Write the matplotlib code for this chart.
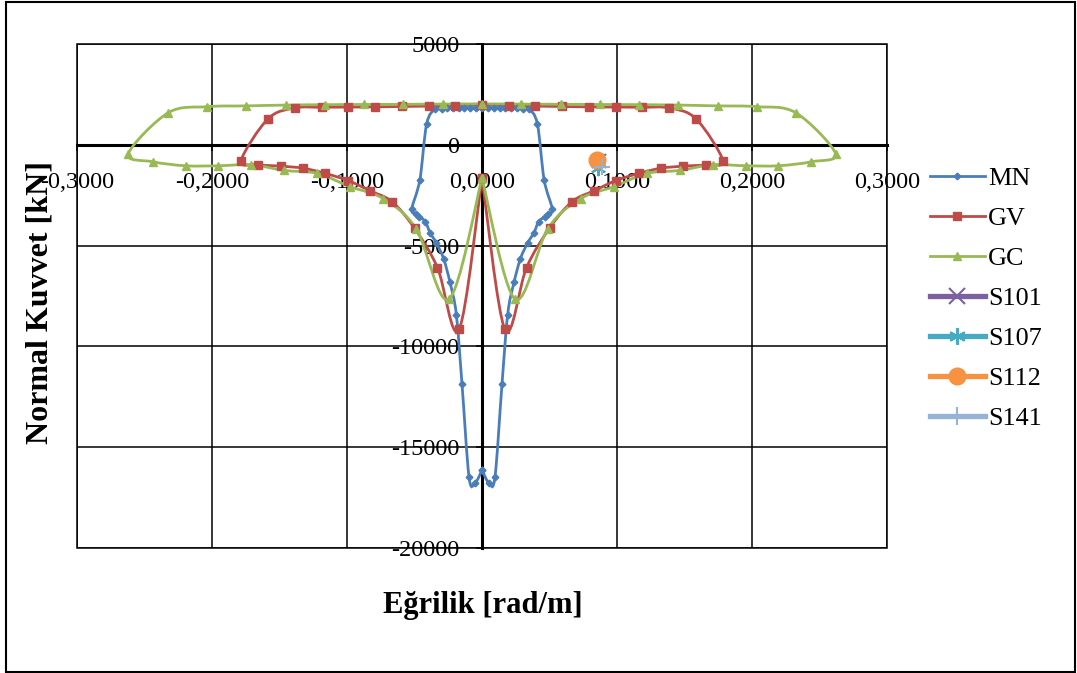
import matplotlib
matplotlib.use('Agg')
import matplotlib.pyplot as plt
import numpy as np
from matplotlib.path import Path
from matplotlib.patches import PathPatch, Rectangle
from matplotlib.lines import Line2D
from matplotlib.ticker import FuncFormatter

plt.rcParams['font.family'] = ['Liberation Serif', 'DejaVu Serif']

# ---------------- data ----------------
MN_x = [0.0, 0.0052, 0.0096, 0.0148, 0.0190, 0.0237, 0.0285, 0.0340, 0.0385, 0.0420, 0.0467, 0.0490, 0.0520,
        0.0460, 0.0410,
        0.0345, 0.0300, 0.0258, 0.0215, 0.0172, 0.0130, 0.0087, 0.0043, 0.0,
        -0.0043, -0.0087, -0.0130, -0.0172, -0.0215, -0.0258, -0.0300, -0.0345,
        -0.0410, -0.0460,
        -0.0520, -0.0490, -0.0467, -0.0420, -0.0385, -0.0340, -0.0285, -0.0237, -0.0190, -0.0148, -0.0096, -0.0052, 0.0]
MN_y = [-16140, -16780, -16480, -11880, -8420, -6830, -5640, -4850, -4360, -3810, -3560, -3420, -3170,
        -1730, 1040,
        1800, 1800, 1810, 1810, 1810, 1810, 1810, 1810, 1810,
        1810, 1810, 1810, 1810, 1810, 1810, 1800, 1800,
        1040, -1730,
        -3170, -3420, -3560, -3810, -4360, -4850, -5640, -6830, -8420, -11880, -16480, -16780, -16140]

GV_x = [0.0, 0.017, 0.033, 0.050, 0.0667, 0.083, 0.099, 0.116, 0.1326, 0.149, 0.166, 0.1785,
        0.1585, 0.1385, 0.1188, 0.099, 0.0792, 0.0594, 0.0396, 0.0198, 0.0,
        -0.0198, -0.0396, -0.0594, -0.0792, -0.099, -0.1188, -0.1385, -0.1585, -0.1785,
        -0.166, -0.149, -0.1326, -0.116, -0.099, -0.083, -0.0667, -0.050, -0.033, -0.017, 0.0]
GV_y = [-1650, -9160, -6090, -4140, -2820, -2280, -1780, -1420, -1160, -1060, -990, -790,
        1290, 1830, 1860, 1870, 1880, 1900, 1920, 1940, 1960,
        1940, 1920, 1900, 1880, 1870, 1860, 1830, 1290, -790,
        -990, -1060, -1160, -1420, -1780, -2280, -2820, -4140, -6090, -9160, -1650]

GC_x = [0.0, 0.0244, 0.0488, 0.0732, 0.0976, 0.122, 0.1464, 0.1708, 0.1952, 0.2196, 0.244, 0.262,
        0.2326, 0.2037, 0.1748, 0.1455, 0.1165, 0.0874, 0.0583, 0.0291, 0.0,
        -0.0291, -0.0583, -0.0874, -0.1165, -0.1455, -0.1748, -0.2037, -0.2326, -0.262,
        -0.244, -0.2196, -0.1952, -0.1708, -0.1464, -0.122, -0.0976, -0.0732, -0.0488, -0.0244, 0.0]
GC_y = [-1650, -7650, -4160, -2670, -2080, -1420, -1270, -990, -1040, -1040, -840, -445,
        1584, 1890, 1930, 1970, 1990, 2000, 2010, 2020, 2030,
        2020, 2010, 2000, 1990, 1970, 1930, 1890, 1584, -445,
        -840, -1040, -1040, -990, -1270, -1420, -2080, -2670, -4160, -7650, -1650]

S101_x, S101_y = [0.0870], [-820]
S107_x, S107_y = [0.0862], [-1150]
S112_x, S112_y = [0.0850], [-740]
S141_x, S141_y = [0.0890], [-1090]

x_ticks = [-0.3, -0.2, -0.1, 0.0, 0.1, 0.2, 0.3]
y_ticks = [-20000, -15000, -10000, -5000, 0, 5000]

# ---------------- styles ----------------
C_MN, C_GV, C_GC = '#4A7EBB', '#BE4B48', '#98B954'
C_S101, C_S107, C_S112, C_S141 = '#7D60A0', '#46AAC5', '#F69240', '#95B3D7'


def smooth_path(xs, ys):
    P = np.column_stack([xs, ys]).astype(float)
    n = len(P)
    verts = [P[0]]
    codes = [Path.MOVETO]
    for i in range(n - 1):
        p0 = P[i - 1] if i > 0 else P[i]
        p1 = P[i]
        p2 = P[i + 1]
        p3 = P[i + 2] if i + 2 < n else P[i + 1]
        c1 = p1 + (p2 - p0) / 6.0
        c2 = p2 - (p3 - p1) / 6.0
        verts += [c1, c2, p2]
        codes += [Path.CURVE4] * 3
    return Path(verts, codes)


W, H = 1077, 673
fig = plt.figure(figsize=(W / 100, H / 100), dpi=100)
ax = fig.add_axes([77 / W, 1 - 548 / H, 810 / W, 504 / H])
ax.set_xlim(-0.3, 0.3)
ax.set_ylim(-20000, 5000)
ax.set_axisbelow(True)

ax.xaxis.set_major_locator(plt.FixedLocator(x_ticks))
ax.yaxis.set_major_locator(plt.FixedLocator(y_ticks))
ax.xaxis.set_major_formatter(FuncFormatter(lambda v, p: ('%.4f' % v).replace('.', ',').replace('\u2212', '-')))
ax.yaxis.set_major_formatter(FuncFormatter(lambda v, p: '%d' % round(v)))

ax.grid(True, color='black', lw=1.1)
for s in ['top', 'right']:
    ax.spines[s].set_visible(False)
ax.spines['left'].set_position('zero')
ax.spines['bottom'].set_position('zero')
ax.spines['left'].set_linewidth(2.2)
ax.spines['bottom'].set_linewidth(2.2)
ax.tick_params(axis='x', direction='out', length=4.3, width=1.1, labelsize=17.5, pad=15)
ax.tick_params(axis='y', direction='out', length=4.3, width=1.1, labelsize=17.5, pad=12)

ax.add_patch(Rectangle((0, 0), 1, 1, transform=ax.transAxes, fill=False, lw=1.1,
                       edgecolor='black', clip_on=False, zorder=0.6))

series = [
    (MN_x, MN_y, C_MN, 'D', 3.4, 'MN'),
    (GV_x, GV_y, C_GV, 's', 5.2, 'GV'),
    (GC_x, GC_y, C_GC, '^', 5.8, 'GC'),
]
handles = []
for xs, ys, c, m, ms, lab in series:
    ax.add_patch(PathPatch(smooth_path(xs, ys), fill=False, edgecolor=c, lw=2.0, zorder=3))
    ax.plot(xs, ys, linestyle='none', marker=m, ms=ms, color=c, zorder=4)
    handles.append(Line2D([], [], color=c, lw=2.0, marker=m, ms=ms, label=lab))

ax.plot(S101_x, S101_y, linestyle='none', marker='x', ms=10, mew=1.5, color=C_S101, zorder=5)
ax.plot(S107_x, S107_y, linestyle='none', marker=(6, 2, 0), ms=11, mew=1.5, color=C_S107, zorder=5)
ax.plot(S112_x, S112_y, linestyle='none', marker='o', ms=12, color=C_S112, zorder=5)
ax.plot(S141_x, S141_y, linestyle='none', marker='+', ms=12, mew=1.5, color=C_S141, zorder=6)

handles.append(Line2D([], [], color=C_S101, lw=3.8, marker='x', ms=11, mew=1.5, label='S101'))
handles.append(Line2D([], [], color=C_S107, lw=3.8, marker=(6, 2, 0), ms=12, mew=1.5, label='S107'))
handles.append(Line2D([], [], color=C_S112, lw=3.8, marker='o', ms=12, label='S112'))
handles.append(Line2D([], [], color=C_S141, lw=3.8, marker='+', ms=13, mew=1.5, label='S141'))

fig.legend(handles=handles, loc='upper left', bbox_to_anchor=(930 / W, 1 - 167 / H),
           frameon=False, fontsize=18.8, handlelength=2.1, handletextpad=0.12,
           labelspacing=0.64, borderpad=0, borderaxespad=0)

fig.text(40 / W, 1 - 303 / H, 'Normal Kuvvet [kN]', rotation=90, ha='center', va='center',
         fontsize=23, fontweight='bold')
fig.text(483 / W, 1 - 605 / H, 'Eğrilik [rad/m]', ha='center', va='center',
         fontsize=22, fontweight='bold')

fig.patches.append(Rectangle((6 / W, 1 / H), 1069 / W, 670 / H, transform=fig.transFigure,
                             fill=False, lw=1.5, edgecolor='black'))

fig.savefig('out.png', dpi=100)
